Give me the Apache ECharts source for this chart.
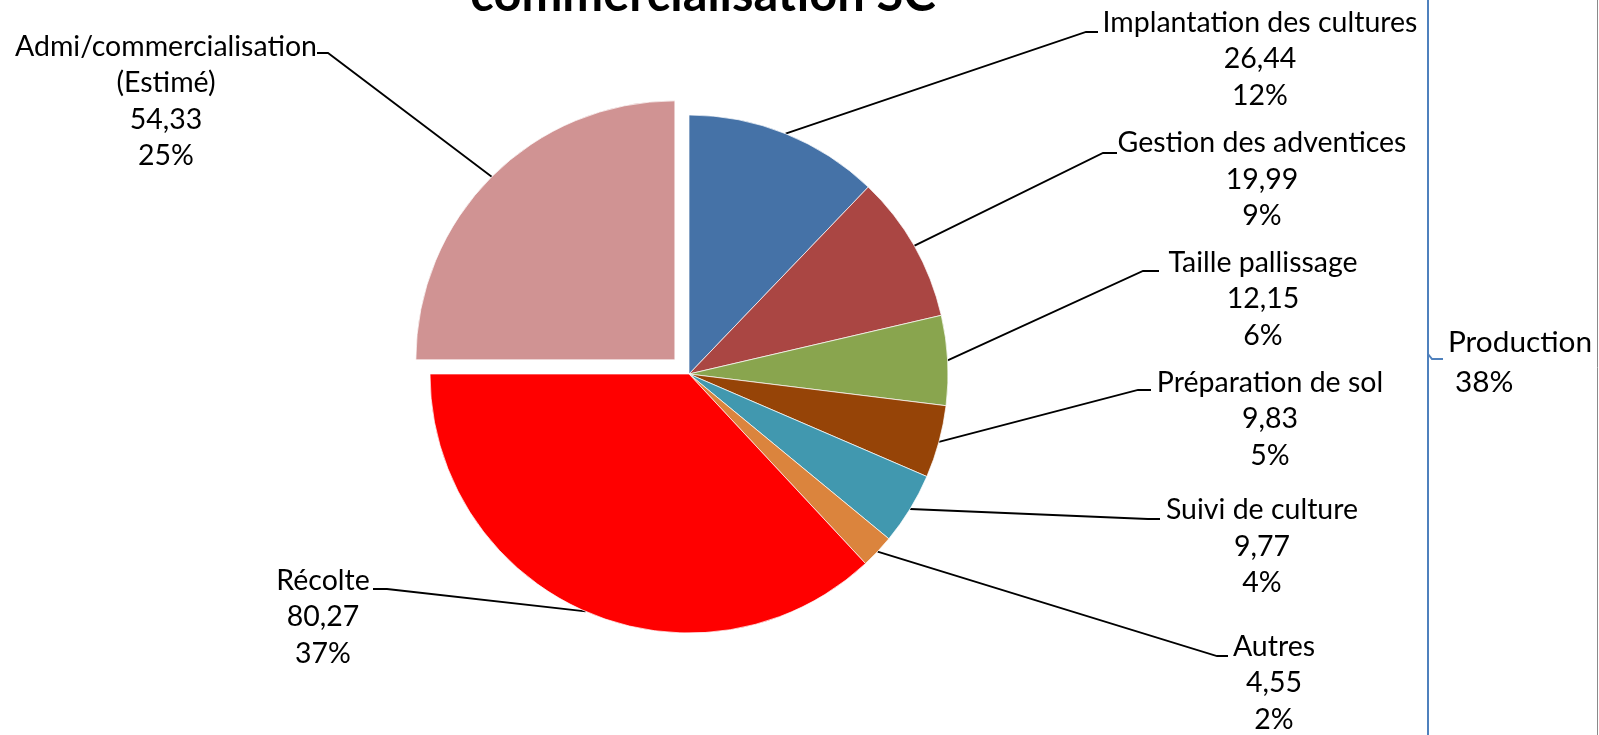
<!DOCTYPE html>
<html><head><meta charset="utf-8">
<script src="https://cdn.jsdelivr.net/npm/echarts@6/dist/echarts.min.js"></script>
<style>html,body{margin:0;padding:0;background:#fff;overflow:hidden}#c{width:1599px;height:735px}</style>
</head><body><div id="c"></div>
<script>
// ---- data ----
const categories = ['Implantation des cultures', 'Gestion des adventices', 'Taille pallissage', 'Préparation de sol', 'Suivi de culture', 'Autres', 'Récolte', 'Admi/commercialisation\n(Estimé)'];
const values = [26.44, 19.99, 12.15, 9.83, 9.77, 4.55, 80.27, 54.33];
const productionCount = 6; // first six categories form the "Production" group
const titleText = 'commercialisation SC';
const groupLabel = 'Production';

// ---- style ----
const colors = ['#4572A7', '#AA4643', '#89A54E', '#964407', '#4198AF', '#DB843D', '#FF0000', '#D09393'];
const exploded = [false, false, false, false, false, false, false, true];
const explodeOffset = 20;
const labelPos = [
  { x: 1260, y: 59,    elbow: [1086, 32],  end: [1098, 32] },
  { x: 1262, y: 179.5, elbow: [1103, 153], end: [1117, 153] },
  { x: 1263, y: 299,   elbow: [1143, 271], end: [1159, 271] },
  { x: 1270, y: 419,   elbow: [1138, 390], end: [1151, 390] },
  { x: 1262, y: 546.5, elbow: [1148, 519], end: [1160, 519] },
  { x: 1274, y: 683,   elbow: [1217, 656], end: [1228, 656] },
  { x: 323,  y: 617,   elbow: [387, 589],  end: [373, 589] },
  { x: 166,  y: 101.5, elbow: [328, 53],   end: [317, 53] }
];
const CX = 689, CY = 374, R = 259;

const FONT = 'Lato';
const cv = document.createElement('canvas').getContext('2d');
function fit(text, weight, target) {
  cv.font = weight + ' 100px ' + FONT;
  return 100 * target / cv.measureText(text).width;
}
const labelSize = fit('Implantation des cultures', 'normal', 315);
const titleSize = fit(titleText, 'bold', 465);
const prodSize = fit(groupLabel, 'normal', 144);

const total = values.reduce((a, b) => a + b, 0);
const prodShare = Math.round(values.slice(0, productionCount).reduce((a, b) => a + b, 0) / total * 100) + '%';

// offset direction of the exploded slice (mid-angle, clockwise from 12 o'clock)
let acc = 0, exDx = 0, exDy = 0;
values.forEach((v, i) => {
  const mid = (acc + v / 2) / total * 2 * Math.PI;
  if (exploded[i]) { exDx = Math.sin(mid) * explodeOffset; exDy = -Math.cos(mid) * explodeOffset; }
  acc += v;
});

const fmt = p => p.name + '\n' + p.value.toFixed(2).replace('.', ',') + '\n' + Math.round(p.value / total * 100) + '%';
const layoutFn = function (params) {
  const L = labelPos[params.dataIndex];
  const pts = params.labelLinePoints;
  if (!pts || !pts.length) return {};
  return { x: L.x, y: L.y, align: 'center', verticalAlign: 'middle', labelLinePoints: [pts[0], L.elbow, L.end] };
};
const hidden = { color: 'rgba(0,0,0,0)', borderWidth: 0 };

function makeSeries(showExploded, center) {
  return {
    type: 'pie',
    center: center,
    radius: R,
    startAngle: 90,
    clockwise: true,
    silent: true,
    avoidLabelOverlap: false,
    emphasis: { disabled: true },
    itemStyle: { borderColor: 'rgba(255,255,255,0.7)', borderWidth: 1 },
    label: {
      show: true, position: 'outside', color: '#000', fontFamily: FONT, fontSize: labelSize,
      lineHeight: 36.5, align: 'center', formatter: fmt
    },
    labelLine: { show: true, length: 10, length2: 10, lineStyle: { color: '#000', width: 1.8 } },
    labelLayout: layoutFn,
    data: categories.map((c, i) => {
      const vis = exploded[i] === showExploded;
      return {
        name: c, value: values[i],
        itemStyle: vis ? { color: colors[i] } : hidden,
        label: { show: vis },
        labelLine: { show: vis }
      };
    })
  };
}

const chart = echarts.init(document.getElementById('c'));
chart.setOption({
  animation: false,
  backgroundColor: '#fff',
  textStyle: { fontFamily: FONT },
  graphic: [
    { type: 'text', x: 703, y: 13 - 0.36 * titleSize, style: { text: titleText, font: 'bold ' + titleSize.toFixed(1) + 'px ' + FONT, fill: '#000', align: 'center', verticalAlign: 'middle' } },
    { type: 'line', shape: { x1: 1428, y1: -5, x2: 1428, y2: 745 }, style: { stroke: '#4F81BD', lineWidth: 2 } },
    { type: 'polyline', shape: { points: [[1428, 354], [1432, 359], [1443, 359]] }, style: { stroke: '#4F81BD', lineWidth: 2, fill: null } },
    { type: 'line', shape: { x1: 1597.5, y1: 0, x2: 1597.5, y2: 735 }, style: { stroke: '#8a8a8a', lineWidth: 1 } },
    { type: 'text', x: 1448, y: 342.5, style: { text: groupLabel, font: prodSize.toFixed(1) + 'px ' + FONT, fill: '#000', align: 'left', verticalAlign: 'middle' } },
    { type: 'text', x: 1455, y: 382.5, style: { text: prodShare, font: prodSize.toFixed(1) + 'px ' + FONT, fill: '#000', align: 'left', verticalAlign: 'middle' } }
  ],
  series: [
    makeSeries(false, [CX, CY]),
    makeSeries(true, [CX + exDx, CY + exDy])
  ]
});
</script>
</body></html>
